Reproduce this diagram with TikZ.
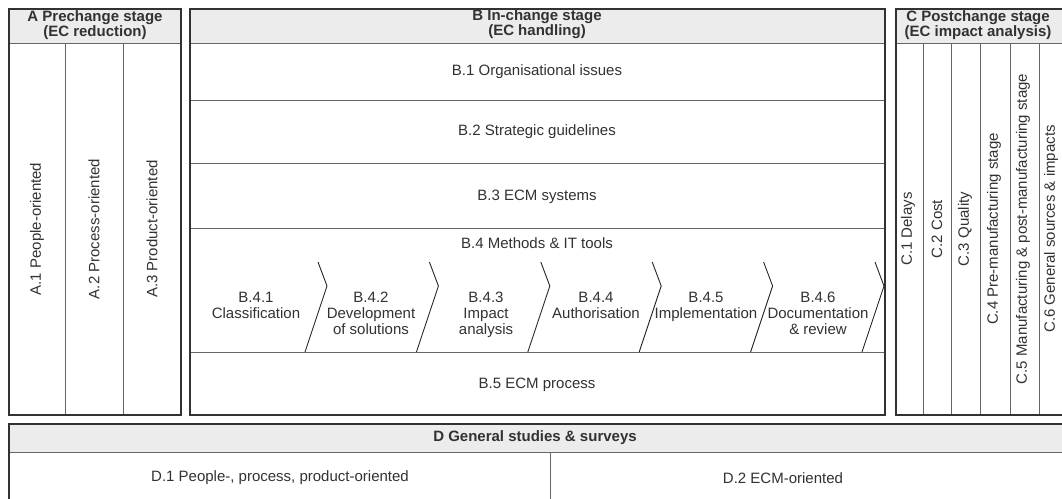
\documentclass[tikz,border=0pt]{standalone}
\usepackage{fontspec}
\setmainfont{Liberation Sans}
\usetikzlibrary{positioning}
\definecolor{hdrgray}{RGB}{236,236,236}
\definecolor{framegray}{RGB}{50,50,50}
\definecolor{txtgray}{RGB}{50,50,50}
\tikzset{
  stagebox/.style={draw=framegray, line width=2pt},
  cellline/.style={draw=black!60, line width=1pt},
  chevline/.style={draw=black!85, line width=0.9pt},
  hdrtxt/.style={
    font=\fontsize{15}{15}\selectfont\bfseries, text=txtgray,
    align=center, inner sep=0pt,
  },
  celltxt/.style={
    font=\fontsize{15}{16}\selectfont, text=txtgray,
    align=center, inner sep=0pt,
  },
  vtxt/.style={celltxt, rotate=90},
}
\def\Top{9}
\def\Hb{43}
\def\Bot{415}
\def\Bx{537}
\def\Cy{229}

\begin{document}
\begin{tikzpicture}[x=1pt, y=-1pt]
\clip (0,0) rectangle (1062,498);
\fill[white] (0,0) rectangle (1062,498);

% =====================================================================
%  A  PRECHANGE STAGE
% =====================================================================
\fill[hdrgray] (9,\Top) rectangle (181,\Hb);
\draw[cellline] (9,\Hb) -- (181,\Hb);
\foreach \xx in {65,123} {
  \draw[cellline] (\xx,\Hb) -- (\xx,\Bot);
}
\draw[stagebox] (9,\Top) rectangle (181,\Bot);
\node[hdrtxt] (hdrA) at (95,25) {A Prechange stage\\(EC reduction)};

\node[vtxt] (a1) at (37,\Cy) {A.1 People-oriented};
\node[vtxt] (a2) at (94,\Cy) {A.2 Process-oriented};
\node[vtxt] (a3) at (152,\Cy) {A.3 Product-oriented};

% =====================================================================
%  B  IN-CHANGE STAGE
% =====================================================================
\fill[hdrgray] (190,\Top) rectangle (885,\Hb);
\foreach \yy in {43,100,163,228,352} {
  \draw[cellline] (190,\yy) -- (885,\yy);
}
\draw[stagebox] (190,\Top) rectangle (885,\Bot);
\node[hdrtxt] (hdrB) at (\Bx,24) {B In-change stage\\(EC handling)};

\node[celltxt] (b1) at (\Bx,72) {B.1 Organisational issues};
\node[celltxt] (b2) at (\Bx,132) {B.2 Strategic guidelines};
\node[celltxt] (b3) at (\Bx,197) {B.3 ECM systems};
\node[celltxt] (b4) at (\Bx,243) {B.4 Methods \& IT tools};
\node[celltxt] (b5) at (\Bx,385) {B.5 ECM process};

% --- process chevrons ---
\foreach \i in {0,...,5} {
  \draw[chevline] ({318+111.4*\i},262) -- ({327+111.4*\i},286)
                  -- ({305+111.4*\i},352);
}

% --- process steps ---
\foreach \i/\xx/\txt in {1/256/{Classification},
                         2/371/{Development\\of solutions},
                         3/486/{Impact\\analysis},
                         4/596/{Authorisation},
                         5/706/{Implementation},
                         6/818/{Documentation\\\& review}} {
  \node[celltxt, anchor=north] (b4\i) at (\xx,292) {B.4.\i\\\txt};
}

% =====================================================================
%  C  POSTCHANGE STAGE
% =====================================================================
\fill[hdrgray] (896,\Top) rectangle (1068,\Hb);
\draw[cellline] (896,\Hb) -- (1068,\Hb);
\foreach \xx in {923,951,980,1010,1039} {
  \draw[cellline] (\xx,\Hb) -- (\xx,\Bot);
}
\draw[stagebox] (896,\Top) rectangle (1068,\Bot);
\node[hdrtxt] (hdrC) at (978,25) {C Postchange stage\\(EC impact analysis)};

\node[vtxt] (c1) at (908,\Cy) {C.1 Delays};
\node[vtxt] (c2) at (937,\Cy) {C.2 Cost};
\node[vtxt] (c3) at (965,\Cy) {C.3 Quality};
\node[vtxt] (c4) at (994,\Cy) {C.4 Pre-manufacturing stage};
\node[vtxt] (c5) at (1023,\Cy) {C.5 Manufacturing \& post-manufacturing stage};
\node[vtxt] (c6) at (1051,\Cy) {C.6 General sources \& impacts};

% =====================================================================
%  D  GENERAL STUDIES
% =====================================================================
\fill[hdrgray] (9,424) rectangle (1068,452);
\draw[cellline] (9,452) -- (1068,452);
\draw[cellline] (550,452) -- (550,505);
\draw[stagebox] (9,424) rectangle (1068,505);
\node[hdrtxt] (hdrD) at (535,438) {D General studies \& surveys};

\node[celltxt] (d1) at (280,478) {D.1 People-, process, product-oriented};
\node[celltxt] (d2) at (783,478) {D.2 ECM-oriented};

\end{tikzpicture}
\end{document}
